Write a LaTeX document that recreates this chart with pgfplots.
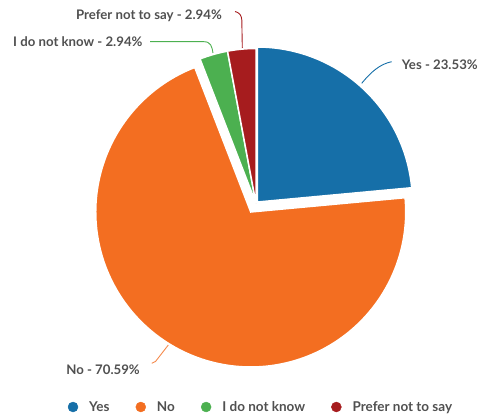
\documentclass[border=0pt]{standalone}
\usepackage{fontspec}
\setmainfont{Lato}
\usepackage{pgfplots}
\pgfplotsset{compat=1.18}
\definecolor{cyes}{RGB}{22,111,168}
\definecolor{cno}{RGB}{243,110,33}
\definecolor{cidk}{RGB}{76,176,80}
\definecolor{cpref}{RGB}{166,28,30}
\definecolor{ctext}{RGB}{80,80,80}
% data (percent)
\newcommand{\pYes}{23.53}
\newcommand{\pNo}{70.59}
\newcommand{\pIdk}{2.94}
\newcommand{\pPref}{2.94}
\begin{document}
\begin{tikzpicture}
\pgfmathsetmacro{\aA}{90}
\pgfmathsetmacro{\aB}{\aA-3.6*\pYes}
\pgfmathsetmacro{\aC}{\aB-3.6*\pNo}
\pgfmathsetmacro{\aD}{\aC-3.6*\pIdk}
\pgfmathsetmacro{\aE}{\aD-3.6*\pPref}
\pgfmathsetmacro{\cx}{256}
\pgfmathsetmacro{\cy}{214.5}
\pgfmathsetmacro{\R}{155}
\pgfmathsetmacro{\yx}{\cx+2*cos((\aA+\aB)/2)}
\pgfmathsetmacro{\yy}{\cy+2*sin((\aA+\aB)/2)}
\pgfmathsetmacro{\nx}{\cx+10*cos((\aB+\aC)/2)}
\pgfmathsetmacro{\ny}{\cy+10*sin((\aB+\aC)/2)}
\begin{axis}[hide axis, scale only axis, width=481pt, height=418pt,
  xmin=0, xmax=481, ymin=0, ymax=418, clip=false,
  legend columns=4,
  legend style={at={(axis cs:260,11)}, anchor=center, draw=none, fill=none,
    font=\fontsize{13.5}{15}\selectfont\bfseries\color{ctext},
    nodes={inner xsep=0pt, inner ysep=1pt},
    /tikz/every odd column/.append style={column sep=11pt},
    /tikz/every even column/.append style={column sep=26pt}},
]
\addplot[forget plot, fill=cyes, draw=white, line width=1.5pt, domain=\aB:\aA, samples=80, variable=\t]
  ({\yx+\R*cos(\t)},{\yy+\R*sin(\t)}) -- (axis cs:\yx,\yy) -- cycle;
\addplot[forget plot, fill=cno, draw=white, line width=1.5pt, domain=\aC:\aB, samples=160, variable=\t]
  ({\nx+\R*cos(\t)},{\ny+\R*sin(\t)}) -- (axis cs:\nx,\ny) -- cycle;
\addplot[forget plot, fill=cidk, draw=white, line width=1.5pt, domain=\aD:\aC, samples=20, variable=\t]
  ({\cx+\R*cos(\t)},{\cy+\R*sin(\t)}) -- (axis cs:\cx,\cy) -- cycle;
\addplot[forget plot, fill=cpref, draw=white, line width=1.5pt, domain=\aE:\aD, samples=20, variable=\t]
  ({\cx+\R*cos(\t)},{\cy+\R*sin(\t)}) -- (axis cs:\cx,\cy) -- cycle;
% leader lines
\draw[cpref, line width=0.9pt] (axis cs:242.3,370) -- (axis cs:241.8,398) .. controls (axis cs:241.6,403) and (axis cs:239,405.6) .. (axis cs:235,406.5);
\draw[cidk, line width=0.9pt] (axis cs:213,365) .. controls (axis cs:212,371) and (axis cs:211,376.3) .. (axis cs:204,376.3) -- (axis cs:150,376.3);
\draw[cyes, line width=0.9pt] (axis cs:361.7,334.7) .. controls (axis cs:371,346) and (axis cs:380,354) .. (axis cs:391.7,356.3);
\draw[cno!80, line width=0.9pt] (axis cs:168.3,73) -- (axis cs:155.5,56.5) .. controls (axis cs:154.5,55.3) and (axis cs:153.5,54.7) .. (axis cs:151.7,54.7);
% labels
\begin{scope}[every node/.style={font=\fontsize{13.2}{15}\selectfont\bfseries, text=ctext, inner sep=0pt}]
\node[anchor=east] at (axis cs:222,402.5) {Prefer not to say - 2.94\%};
\node[anchor=west] at (axis cs:13,376) {I do not know - 2.94\%};
\node[anchor=west] at (axis cs:401.7,353) {Yes - 23.53\%};
\node[anchor=east] at (axis cs:140,48.7) {No - 70.59\%};
\end{scope}
\path (axis cs:0,0) rectangle (axis cs:481,418);
% legend
\addlegendimage{legend image code/.code={\fill[cyes] (0pt,0pt) circle (5pt);}}
\addlegendentry{Yes}
\addlegendimage{legend image code/.code={\fill[cno] (0pt,0pt) circle (5pt);}}
\addlegendentry{No}
\addlegendimage{legend image code/.code={\fill[cidk] (0pt,0pt) circle (5pt);}}
\addlegendentry{I do not know}
\addlegendimage{legend image code/.code={\fill[cpref] (0pt,0pt) circle (5pt);}}
\addlegendentry{Prefer not to say}
\end{axis}
\end{tikzpicture}
\end{document}
